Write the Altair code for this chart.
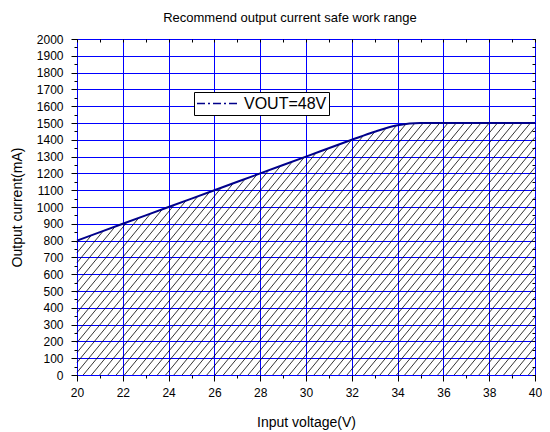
import altair as alt
import numpy as np
import pandas as pd

# Curve data
volts = [20, 22, 24, 26, 28, 30, 32, 33, 34, 35, 36, 38, 40]
current = [800, 900, 1000, 1100, 1200, 1300, 1400, 1448, 1486, 1500, 1500, 1500, 1500]
series_name = "VOUT=48V"

x_ticks = list(range(20, 41, 1))
y_ticks = list(range(0, 2001, 50))

FONT = "Liberation Sans"

line_df = pd.DataFrame({"v": volts, "i": current, "s": [series_name] * len(volts)})

# hatch segments below the curve (decoration derived from the curve)
slope = 165.0   # mA per V
step = 0.36     # V between hatch lines
def f(x):
    return np.interp(x, volts, current)
segs = []
x0 = 20 - max(current) / slope
while x0 < 40:
    xs = max(x0, 20.0)
    ys = slope * (xs - x0)
    if ys <= f(xs):
        if f(40) - slope * (40 - x0) >= 0:
            xe = 40.0
        else:
            lo, hi = xs, 40.0
            for _ in range(60):
                mid = (lo + hi) / 2
                if f(mid) - slope * (mid - x0) > 0:
                    lo = mid
                else:
                    hi = mid
            xe = lo
        ye = slope * (xe - x0)
        segs.append({"x": xs, "y": ys, "x2": xe, "y2": ye})
    x0 += step
hatch_df = pd.DataFrame(segs)

xscale = alt.Scale(domain=[20, 40], nice=False, zero=False)
yscale = alt.Scale(domain=[0, 2000], nice=False)

x_axis = alt.Axis(
    values=x_ticks, title="Input voltage(V)", format="d",
    labelExpr="datum.value % 2 === 0 ? datum.label : ''",
    tickSize={"condition": {"test": "datum.value % 2 === 0", "value": 6}, "value": 3},
    gridOpacity={"condition": {"test": "datum.value % 2 === 0", "value": 1}, "value": 0},
    gridColor="#0000FF", gridWidth=1, domain=False, tickColor="black",
    labelFont=FONT, labelFontSize=12, labelColor="black", labelPadding=6,
    labelFlush=False,
    labelOverlap=False, titleFont=FONT, titleFontSize=14, titleFontWeight="normal",
    titleColor="black", titlePadding=17,
)
y_axis = alt.Axis(
    values=y_ticks, title="Output current(mA)", format="d",
    labelExpr="datum.value % 100 === 0 ? datum.label : ''",
    tickSize={"condition": {"test": "datum.value % 100 === 0", "value": 6}, "value": 3},
    gridOpacity={"condition": {"test": "datum.value % 100 === 0", "value": 1}, "value": 0},
    gridColor="#0000FF", gridWidth=1, domain=False, tickColor="black",
    labelFont=FONT, labelFontSize=12, labelColor="black", labelPadding=8,
    labelFlush=False,
    labelOverlap=False, titleFont=FONT, titleFontSize=14, titleFontWeight="normal",
    titleColor="black", titlePadding=12,
)

hatch = alt.Chart(hatch_df).mark_rule(color="black", strokeWidth=0.8).encode(
    x=alt.X("x:Q", scale=xscale, axis=x_axis),
    y=alt.Y("y:Q", scale=yscale, axis=y_axis),
    x2="x2:Q",
    y2="y2:Q",
)

line = alt.Chart(line_df).mark_line(interpolate="monotone", strokeWidth=2).encode(
    x=alt.X("v:Q", scale=xscale, axis=alt.Axis(
        orient="top", values=x_ticks, labels=False, domain=False, grid=False,
        ticks=True, tickSize=3, offset=-3, tickColor="black", title=None)),
    y=alt.Y("i:Q", scale=yscale, axis=alt.Axis(
        orient="right", values=y_ticks, labels=False, domain=False, grid=False,
        ticks=True, tickSize=3, offset=-3, tickColor="black", title=None)),
    color=alt.Color("s:N", scale=alt.Scale(domain=[series_name], range=["#00008B"]),
                    legend=alt.Legend(
                        title=None, orient="none", legendX=117, legendY=53,
                        strokeColor="black", fillColor="white", padding=2,
                        symbolType="stroke", symbolStrokeWidth=1.5,
                        symbolDash=[8, 3, 2, 3], symbolSize=1600,
                        clipHeight=19,
                        labelFont=FONT, labelFontSize=16, labelColor="black",
                        labelOffset=6, cornerRadius=0)),
)

chart = alt.layer(hatch, line).resolve_axis(x="independent", y="independent").properties(
    width=458, height=336,
    autosize="none",
    padding={"left": 69, "top": 31, "right": 7, "bottom": 58},
    title=alt.TitleParams("Recommend output current safe work range", font=FONT,
                          fontSize=13, fontWeight="normal", color="black",
                          offset=8, dx=-16, anchor="middle"),
).configure_view(stroke="black", strokeWidth=1)

chart.save("out.html", embed_options={"renderer": "svg", "actions": False})
